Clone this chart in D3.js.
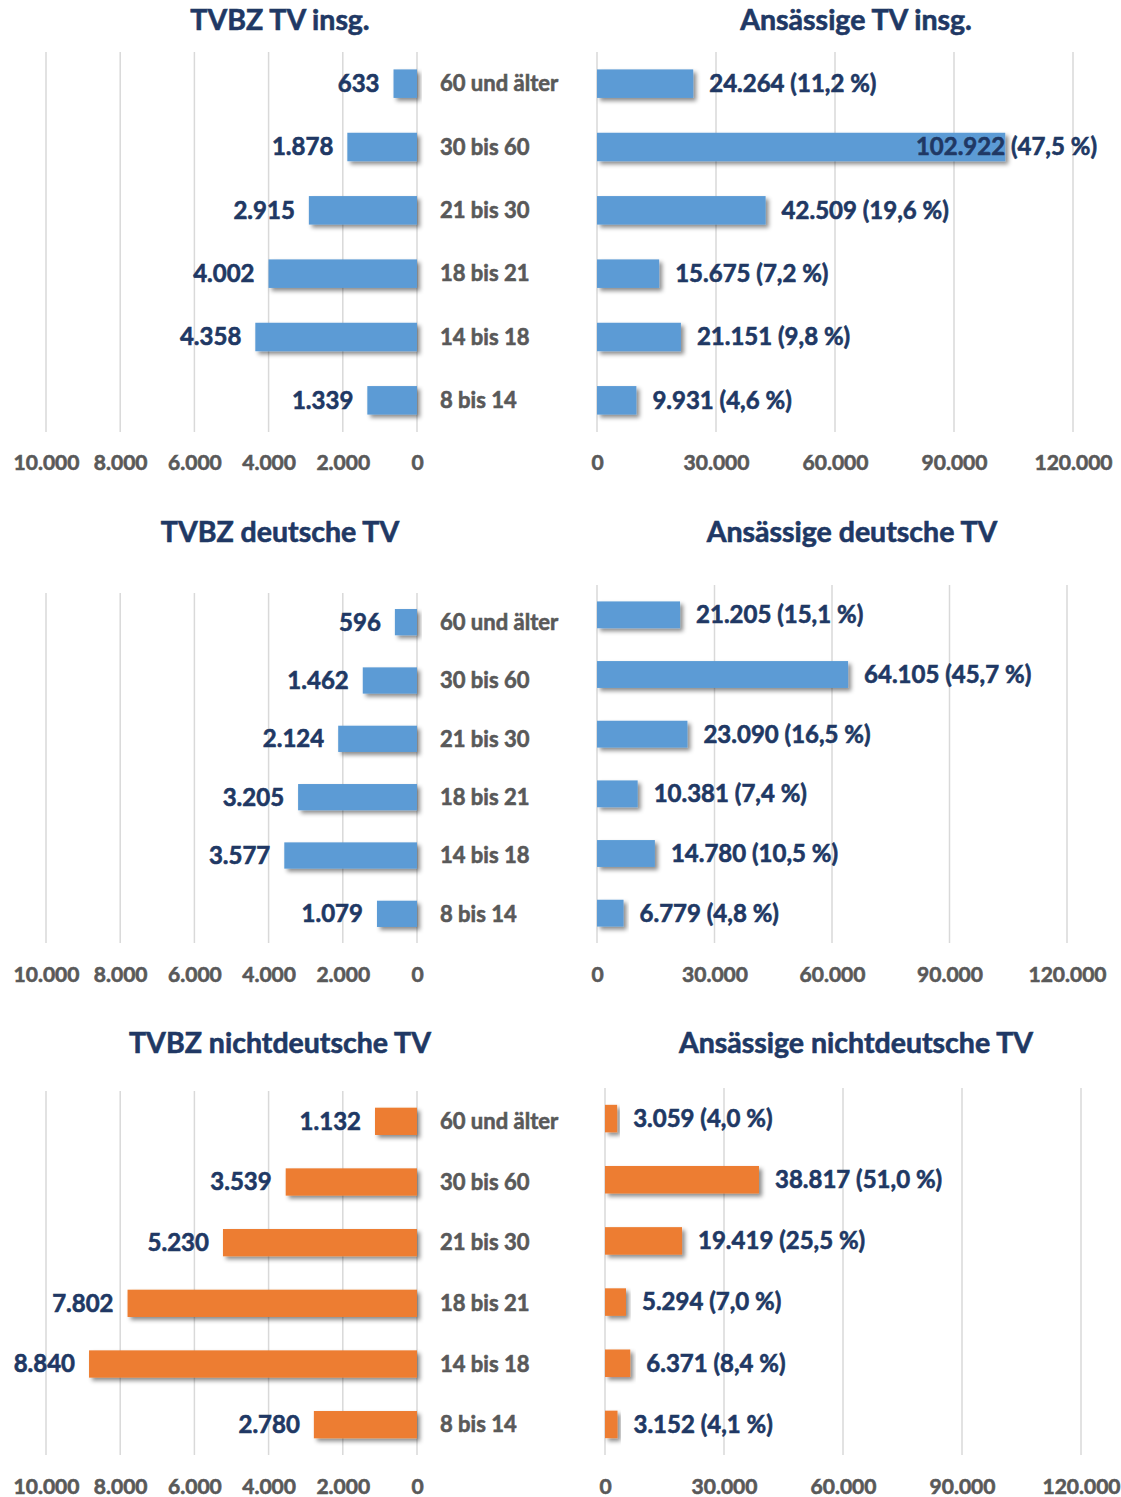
<!DOCTYPE html>
<html lang="de">
<head>
<meta charset="UTF-8">
<title>TVBZ / Ansässige TV</title>
<style>
  html, body { margin: 0; padding: 0; background: #fff; }
  svg text { font-family: Lato, "Open Sans", sans-serif; font-weight: 700; }
</style>
</head>
<body>
<svg id="chart" width="1121" height="1497"></svg>
<script src="https://cdnjs.cloudflare.com/ajax/libs/d3/7.8.5/d3.min.js"></script>
<script>
// Altersgruppen (von oben nach unten)
const ageGroups = ["60 und älter", "30 bis 60", "21 bis 30", "18 bis 21", "14 bis 18", "8 bis 14"];

const tvbzInsg = [633, 1878, 2915, 4002, 4358, 1339];
const ansInsg = [24264, 102922, 42509, 15675, 21151, 9931];
const ansInsgPct = [11.2, 47.5, 19.6, 7.2, 9.8, 4.6];

const tvbzDeutsch = [596, 1462, 2124, 3205, 3577, 1079];
const ansDeutsch = [21205, 64105, 23090, 10381, 14780, 6779];
const ansDeutschPct = [15.1, 45.7, 16.5, 7.4, 10.5, 4.8];

const tvbzNicht = [1132, 3539, 5230, 7802, 8840, 2780];
const ansNicht = [3059, 38817, 19419, 5294, 6371, 3152];
const ansNichtPct = [4.0, 51.0, 25.5, 7.0, 8.4, 4.1];

const leftTicks = [0, 2000, 4000, 6000, 8000, 10000];
const rightTicks = [0, 30000, 60000, 90000, 120000];

const titlesLeft = ["TVBZ TV insg.", "TVBZ deutsche TV", "TVBZ nichtdeutsche TV"];
const titlesRight = ["Ansässige TV insg.", "Ansässige deutsche TV", "Ansässige nichtdeutsche TV"];

const de = d3.formatLocale({decimal: ",", thousands: ".", grouping: [3], currency: ["", " €"]});
const fmtInt = de.format(",d");
const fmtPct = de.format(".1f");

const blue = "#5b9bd5", orange = "#ed7d31";
const navy = "#203864", grey = "#595959", gridCol = "#d9d9d9";

// Layout der drei Zeilen
const rows = [
  {tl: tvbzInsg, tr: ansInsg, pct: ansInsgPct, color: blue, titleY: 20, tickY: 463,
   left: {x0: 417, x1: 46, y0: 52, y1: 432}, right: {x0: 597, x1: 1073, y0: 52, y1: 432}, trX: 856},
  {tl: tvbzDeutsch, tr: ansDeutsch, pct: ansDeutschPct, color: blue, titleY: 532, tickY: 975,
   left: {x0: 417, x1: 46, y0: 593, y1: 943}, right: {x0: 597, x1: 1067, y0: 585, y1: 943}, trX: 852},
  {tl: tvbzNicht, tr: ansNicht, pct: ansNichtPct, color: orange, titleY: 1043, tickY: 1487,
   left: {x0: 417, x1: 46, y0: 1091, y1: 1455}, right: {x0: 605, x1: 1081, y0: 1088, y1: 1455}, trX: 856}
];

const svg = d3.select("#chart");

const defs = svg.append("defs");
const f = defs.append("filter").attr("id", "shadow")
  .attr("x", "-10%").attr("y", "-20%").attr("width", "130%").attr("height", "160%");
f.append("feDropShadow").attr("dx", 3).attr("dy", 3).attr("stdDeviation", 2)
  .attr("flood-color", "#000").attr("flood-opacity", 0.45);

// etwas kraeftigere Schrift (Calibri Bold wirkt schwerer als Lato Bold)
function heavy(sel, col) {
  return sel.attr("fill", col).attr("stroke", col).attr("stroke-width", 0.6)
    .attr("paint-order", "stroke");
}

function panel(box, values, ticks, max, color, tickY, labelFn, side) {
  const x = d3.scaleLinear().domain([0, max]).range([box.x0, box.x1]);
  const y = d3.scaleBand().domain(ageGroups).range([box.y0, box.y1])
    .paddingInner(0.55).paddingOuter(0.275);
  const g = svg.append("g");

  // Gitterlinien
  g.selectAll("line.grid").data(ticks).join("line")
    .attr("x1", d => x(d)).attr("x2", d => x(d))
    .attr("y1", box.y0).attr("y2", box.y1)
    .attr("stroke", gridCol).attr("stroke-width", 1.5);

  // Achsenbeschriftung
  const ax = d3.axisBottom(x).tickValues(ticks).tickFormat(fmtInt).tickSize(0);
  const axg = g.append("g").attr("transform", `translate(0,${tickY})`).call(ax);
  axg.select(".domain").remove();
  heavy(axg.selectAll("text").attr("dy", "0.35em").attr("y", 0), grey)
    .style("font-size", "21px")
    .style("font-family", "Lato, sans-serif").style("font-weight", 700);

  const data = values.map((v, i) => ({cat: ageGroups[i], v, i}));

  g.selectAll("rect").data(data).join("rect")
    .attr("x", d => Math.min(x(0), x(d.v)))
    .attr("y", d => y(d.cat))
    .attr("width", d => Math.abs(x(d.v) - x(0)))
    .attr("height", y.bandwidth())
    .attr("fill", color)
    .attr("filter", "url(#shadow)");

  const lbl = heavy(g.selectAll("text.val").data(data).join("text")
    .attr("class", "val")
    .attr("y", d => y(d.cat) + y.bandwidth() / 2)
    .attr("dy", "0.35em"), navy)
    .style("font-size", "24px")
    .text(labelFn);

  if (side === "left") {
    lbl.attr("x", d => x(d.v) - 14).attr("text-anchor", "end");
  } else {
    lbl.attr("text-anchor", "start").attr("x", function(d) {
      const w = this.getComputedTextLength();
      return Math.min(x(d.v) + 16, 1097 - w);
    });
  }
  return y;
}

rows.forEach((r, ri) => {
  const yL = panel(r.left, r.tl, leftTicks, 10000, r.color, r.tickY, d => fmtInt(d.v), "left");
  panel(r.right, r.tr, rightTicks, 120000, r.color, r.tickY,
    d => `${fmtInt(d.v)} (${fmtPct(r.pct[d.i])} %)`, "right");

  // Kategorien in der Mitte
  heavy(svg.append("g").selectAll("text").data(ageGroups).join("text")
    .attr("x", 440).attr("y", d => yL(d) + yL.bandwidth() / 2)
    .attr("dy", "0.35em"), grey).style("font-size", "22px")
    .text(d => d);

  heavy(svg.append("text").attr("x", 280).attr("y", r.titleY).attr("dy", "0.35em")
    .attr("text-anchor", "middle"), navy).style("font-size", "28.5px")
    .text(titlesLeft[ri]);
  heavy(svg.append("text").attr("x", r.trX).attr("y", r.titleY).attr("dy", "0.35em")
    .attr("text-anchor", "middle"), navy).style("font-size", "28.5px")
    .text(titlesRight[ri]);
});
</script>
</body>
</html>
